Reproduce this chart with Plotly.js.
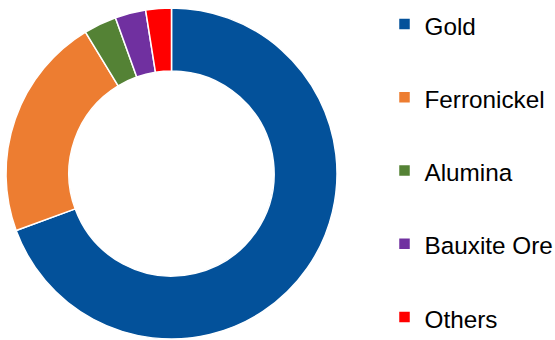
<!DOCTYPE html>
<html>
<head>
<meta charset="utf-8">
<script src="https://cdn.plot.ly/plotly-3.0.1.min.js"></script>
<style>
html,body{margin:0;padding:0;background:#fff;overflow:hidden;}
#chart{width:555px;height:340px;}
</style>
</head>
<body>
<div id="chart"></div>
<script>
var categories = ["Gold", "Ferronickel", "Alumina", "Bauxite Ore", "Others"];
var shares = [69.4, 21.9, 3.2, 3.0, 2.5];
var sliceColors = ["#03519A", "#ED7D31", "#548235", "#7030A0", "#FF0000"];

var legendLabels = categories.map(function (c) {
  return '<span style="font-size:24.3px">' + c + '</span><br> ';
});

var trace = {
  type: "pie",
  labels: legendLabels,
  values: shares,
  hole: 0.62,
  sort: false,
  direction: "clockwise",
  rotation: 0,
  textinfo: "none",
  hoverinfo: "percent",
  marker: { colors: sliceColors, line: { color: "#ffffff", width: 1.5 } },
  domain: { x: [6 / 555, 337 / 555], y: [1 / 340, 332 / 340] }
};

var layout = {
  width: 555,
  height: 340,
  margin: { l: 0, r: 0, t: 0, b: 0, pad: 0, autoexpand: false },
  paper_bgcolor: "#ffffff",
  plot_bgcolor: "#ffffff",
  showlegend: true,
  legend: {
    x: 384.5 / 555,
    xanchor: "left",
    y: 1,
    yanchor: "top",
    valign: "top",
    bgcolor: "rgba(0,0,0,0)",
    borderwidth: 0,
    font: { family: "'Liberation Sans', Arial, sans-serif", size: 27.02, color: "#000000" }
  }
};

Plotly.newPlot("chart", [trace], layout, { displayModeBar: false, staticPlot: true });
</script>
</body>
</html>
